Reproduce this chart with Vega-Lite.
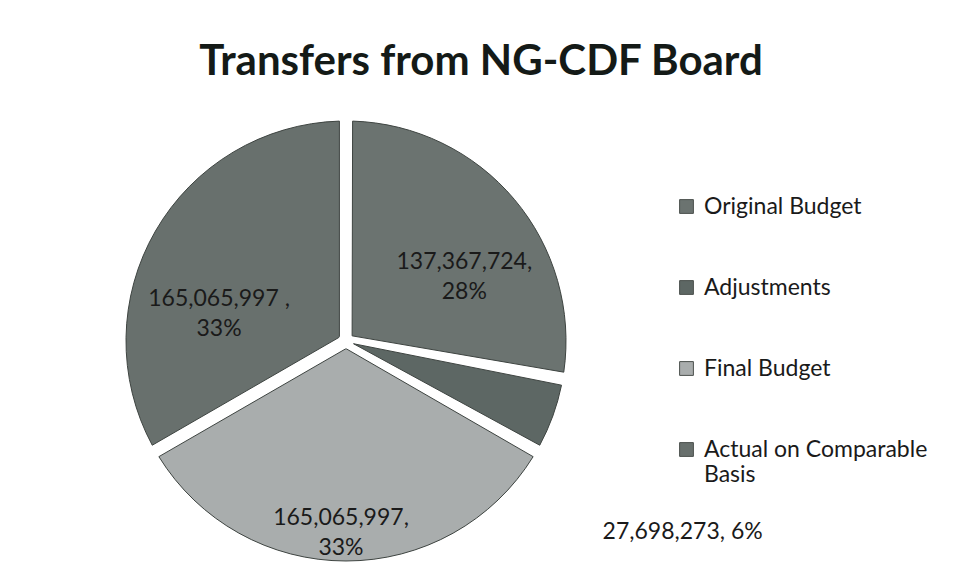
{
  "$schema": "https://vega.github.io/schema/vega-lite/v6.json",
  "autosize": "none",
  "padding": {"left": 0, "top": 111, "right": 270, "bottom": 11},
  "width": 692,
  "height": 460,
  "background": "white",
  "title": {
    "text": "Transfers from NG-CDF Board",
    "font": "Lato",
    "fontSize": 42,
    "fontWeight": "bold",
    "color": "#141a17",
    "anchor": "middle",
    "frame": "group",
    "baseline": "alphabetic",
    "offset": 36,
    "dx": 135,
    "dy": 42
  },
  "data": {
    "values": [
      {"category": "Original Budget", "value": 137367724, "idx": 1, "label": "137,367,724,\n28%"},
      {"category": "Adjustments", "value": 27698273, "idx": 2, "label": "27,698,273, 6%"},
      {"category": "Final Budget", "value": 165065997, "idx": 3, "label": "165,065,997,\n33%"},
      {"category": "Actual on Comparable Basis", "value": 165065997, "idx": 4, "label": "165,065,997 ,\n33%"}
    ]
  },
  "config": {"view": {"stroke": null}},
  "layer": [
    {
      "mark": {"type": "arc", "innerRadius": 8, "outerRadius": 220, "padAngle": 0.06, "stroke": "#3e4441", "strokeWidth": 1},
      "encoding": {
        "theta": {"field": "value", "type": "quantitative", "stack": true},
        "order": {"field": "idx", "type": "quantitative"},
        "color": {
          "field": "category",
          "type": "nominal",
          "scale": {
            "domain": ["Original Budget", "Adjustments", "Final Budget", "Actual on Comparable Basis"],
            "range": ["#6b7370", "#5d6764", "#a9adad", "#68706d"]
          },
          "legend": {
            "orient": "none",
            "legendX": 675,
            "legendY": 84,
            "title": null,
            "padding": 0,
            "symbolType": "square",
            "symbolSize": 190,
            "symbolStrokeColor": "#4a504d",
            "symbolStrokeWidth": 1,
            "labelFont": "Lato",
            "labelFontSize": 23,
            "labelColor": "#1a1a1a",
            "labelOffset": 6,
            "labelLimit": 300,
            "rowPadding": 57,
            "labelExpr": "datum.label == 'Actual on Comparable Basis' ? ['Actual on Comparable', 'Basis'] : datum.label"
          }
        }
      }
    },
    {
      "mark": {"type": "text", "radius": 135, "font": "Lato", "fontSize": 23, "color": "#1a1a1a", "lineBreak": "\n", "lineHeight": 30, "dx": 15, "dy": 8},
      "encoding": {
        "theta": {"field": "value", "type": "quantitative", "stack": true},
        "order": {"field": "idx", "type": "quantitative"},
        "detail": {"field": "category", "type": "nominal"},
        "text": {"condition": {"test": "datum.category === 'Original Budget'", "field": "label"}, "value": ""}
      }
    },
    {
      "mark": {"type": "text", "radius": 135, "font": "Lato", "fontSize": 23, "color": "#1a1a1a", "lineBreak": "\n", "lineHeight": 30, "dx": -10, "dy": 25},
      "encoding": {
        "theta": {"field": "value", "type": "quantitative", "stack": true},
        "order": {"field": "idx", "type": "quantitative"},
        "detail": {"field": "category", "type": "nominal"},
        "text": {"condition": {"test": "datum.category === 'Actual on Comparable Basis'", "field": "label"}, "value": ""}
      }
    },
    {
      "mark": {"type": "text", "radius": 191, "font": "Lato", "fontSize": 23, "color": "#1a1a1a", "lineBreak": "\n", "lineHeight": 30, "dx": -5, "dy": -14},
      "encoding": {
        "theta": {"field": "value", "type": "quantitative", "stack": true},
        "order": {"field": "idx", "type": "quantitative"},
        "detail": {"field": "category", "type": "nominal"},
        "text": {"condition": {"test": "datum.category === 'Final Budget'", "field": "label"}, "value": ""}
      }
    },
    {
      "mark": {"type": "text", "radius": 240, "align": "left", "font": "Lato", "fontSize": 23, "color": "#1a1a1a", "dx": 31, "dy": 109},
      "encoding": {
        "theta": {"field": "value", "type": "quantitative", "stack": true},
        "order": {"field": "idx", "type": "quantitative"},
        "detail": {"field": "category", "type": "nominal"},
        "text": {"condition": {"test": "datum.category === 'Adjustments'", "field": "label"}, "value": ""}
      }
    }
  ]
}
